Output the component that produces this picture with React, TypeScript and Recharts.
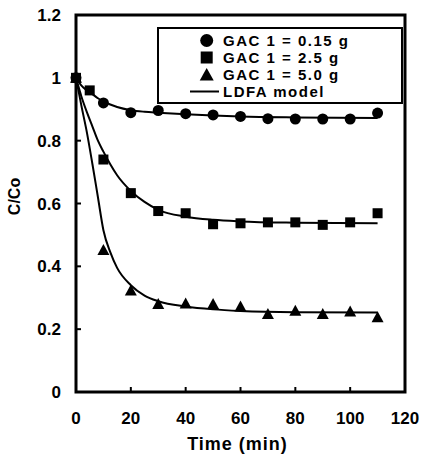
import { ComposedChart, Line, Scatter, XAxis, YAxis, ReferenceArea, Legend } from 'recharts';

// measured points
const gac015Time = [0, 10, 20, 30, 40, 50, 60, 70, 80, 90, 100, 110];
const gac015Values = [1.0, 0.92, 0.889, 0.896, 0.886, 0.882, 0.877, 0.87, 0.869, 0.869, 0.869, 0.888];

const gac25Time = [0, 5, 10, 20, 30, 40, 50, 60, 70, 80, 90, 100, 110];
const gac25Values = [1.0, 0.96, 0.74, 0.633, 0.576, 0.569, 0.534, 0.537, 0.54, 0.54, 0.532, 0.54, 0.569];

const gac50Time = [0, 10, 20, 30, 40, 50, 60, 70, 80, 90, 100, 110];
const gac50Values = [1.0, 0.452, 0.323, 0.28, 0.282, 0.28, 0.272, 0.248, 0.259, 0.248, 0.256, 0.238];

// LDFA model curves
const modelTime = [0, 2, 4, 6, 8, 10, 12.5, 15, 20, 25, 30, 40, 50, 60, 80, 110];
const model015 = [1.0, 0.975, 0.96, 0.948, 0.935, 0.925, 0.915, 0.907, 0.897, 0.892, 0.889, 0.884, 0.88, 0.877, 0.874, 0.872];
const model25 = [1.0, 0.94, 0.89, 0.845, 0.8, 0.765, 0.725, 0.69, 0.64, 0.605, 0.58, 0.558, 0.548, 0.543, 0.539, 0.537];
const model50 = [1.0, 0.91, 0.825, 0.725, 0.62, 0.515, 0.445, 0.395, 0.34, 0.307, 0.289, 0.272, 0.263, 0.258, 0.254, 0.253];

const xTicks = [0, 20, 40, 60, 80, 100, 120];
const yTicks = [0, 0.2, 0.4, 0.6, 0.8, 1, 1.2];
const legendNames = ['GAC 1 = 0.15 g', 'GAC 1 = 2.5 g', 'GAC 1 = 5.0 g', 'LDFA model'];

const FONT = '"Liberation Sans", Arial, sans-serif';

const toPoints = (ts: number[], vs: number[]) => ts.map((t, i) => ({ t, v: vs[i] }));

const CircleMark = (p: any) => <circle cx={p.cx} cy={p.cy} r={5.5} fill="#000" />;
const SquareMark = (p: any) => <rect x={p.cx - 5} y={p.cy - 5} width={10} height={10} fill="#000" />;
const TriangleMark = (p: any) => (
  <polygon points={`${p.cx},${p.cy - 6} ${p.cx - 6},${p.cy + 5} ${p.cx + 6},${p.cy + 5}`} fill="#000" />
);

const XTick = (p: any) => (
  <text x={p.x} y={p.y} dy="0.71em" textAnchor="middle" fontFamily={FONT} fontWeight="bold" fontSize={17} fill="#000">
    {p.payload.value}
  </text>
);
const YTick = (p: any) => (
  <text x={p.x} y={p.y} dy="0.355em" textAnchor="end" fontFamily={FONT} fontWeight="bold" fontSize={17} fill="#000">
    {p.payload.value}
  </text>
);

const LegendBox = () => {
  const markers = [
    <circle cx={47.7} cy={8.5} r={6.5} fill="#000" />,
    <rect x={41.7} y={2.5} width={12} height={12} fill="#000" />,
    <polygon points="47.7,2 40.7,14.5 54.7,14.5" fill="#000" />,
    <line x1={31} x2={60} y1={8.5} y2={8.5} stroke="#000" strokeWidth={2} />,
  ];
  return (
    <div
      style={{
        width: 246,
        height: 77,
        boxSizing: 'border-box',
        border: '2px solid #000',
        background: '#fff',
        position: 'relative',
        fontFamily: FONT,
        fontWeight: 'bold',
        fontSize: 15,
        letterSpacing: 1.5,
      }}
    >
      {legendNames.map((name, i) => (
        <div key={name} style={{ position: 'absolute', left: 0, top: 3 + 17 * i, height: 17, width: 242 }}>
          <svg width={62} height={17} style={{ position: 'absolute', left: 0, top: 0 }}>
            {markers[i]}
          </svg>
          <span style={{ position: 'absolute', left: 64, top: 0, lineHeight: '17px', whiteSpace: 'nowrap' }}>{name}</span>
        </div>
      ))}
    </div>
  );
};

export default function App() {
  return (
    <div style={{ position: 'absolute', left: 0, top: 0, width: 421, height: 454, background: '#fff' }}>
      <ComposedChart width={421} height={454} margin={{ top: 15, right: 16, left: 0, bottom: 0 }}>
        <XAxis
          type="number"
          dataKey="t"
          domain={[0, 120]}
          ticks={xTicks}
          axisLine={false}
          tickLine={{ stroke: '#000', strokeWidth: 2 }}
          tickSize={-5}
          tickMargin={25}
          tick={XTick}
          height={62}
          interval={0}
          label={{
            content: (props: any) => {
              const vb = props.viewBox;
              return (
                <text
                  x={vb.x + vb.width / 2 - 3}
                  y={vb.y + 58}
                  textAnchor="middle"
                  style={{ fontFamily: FONT, fontWeight: 'bold', fontSize: 18, letterSpacing: 1 }}
                  fill="#000"
                >
                  Time (min)
                </text>
              );
            },
          }}
        />
        <YAxis
          type="number"
          dataKey="v"
          domain={[0, 1.2]}
          ticks={yTicks}
          axisLine={false}
          tickLine={{ stroke: '#000', strokeWidth: 2 }}
          tickSize={-5}
          tickMargin={20}
          tick={YTick}
          width={76}
          interval={0}
          label={{
            content: (props: any) => {
              const vb = props.viewBox;
              const cx = vb.x + 20;
              const cy = vb.y + vb.height / 2 - 7;
              return (
                <text
                  x={cx}
                  y={cy}
                  textAnchor="middle"
                  transform={`rotate(-90 ${cx} ${cy})`}
                  style={{ fontFamily: FONT, fontWeight: 'bold', fontSize: 16 }}
                  fill="#000"
                >
                  C/Co
                </text>
              );
            },
          }}
        />
        <ReferenceArea x1={0} x2={120} y1={0} y2={1.2} fill="none" stroke="#000" strokeWidth={3} ifOverflow="visible" />
        <Line data={toPoints(modelTime, model015)} dataKey="v" type="monotone" stroke="#000" strokeWidth={2} dot={false} isAnimationActive={false} />
        <Line data={toPoints(modelTime, model25)} dataKey="v" type="monotone" stroke="#000" strokeWidth={2} dot={false} isAnimationActive={false} />
        <Line data={toPoints(modelTime, model50)} dataKey="v" type="monotone" stroke="#000" strokeWidth={2} dot={false} isAnimationActive={false} />
        <Scatter data={toPoints(gac50Time, gac50Values)} dataKey="v" shape={TriangleMark} isAnimationActive={false} />
        <Scatter data={toPoints(gac25Time, gac25Values)} dataKey="v" shape={SquareMark} isAnimationActive={false} />
        <Scatter data={toPoints(gac015Time, gac015Values)} dataKey="v" shape={CircleMark} isAnimationActive={false} />
        <Legend
          layout="vertical"
          align="center"
          verticalAlign="middle"
          content={() => <LegendBox />}
          wrapperStyle={{ position: 'absolute', left: 157, top: 27, width: 246, height: 77 }}
        />
      </ComposedChart>
    </div>
  );
}
